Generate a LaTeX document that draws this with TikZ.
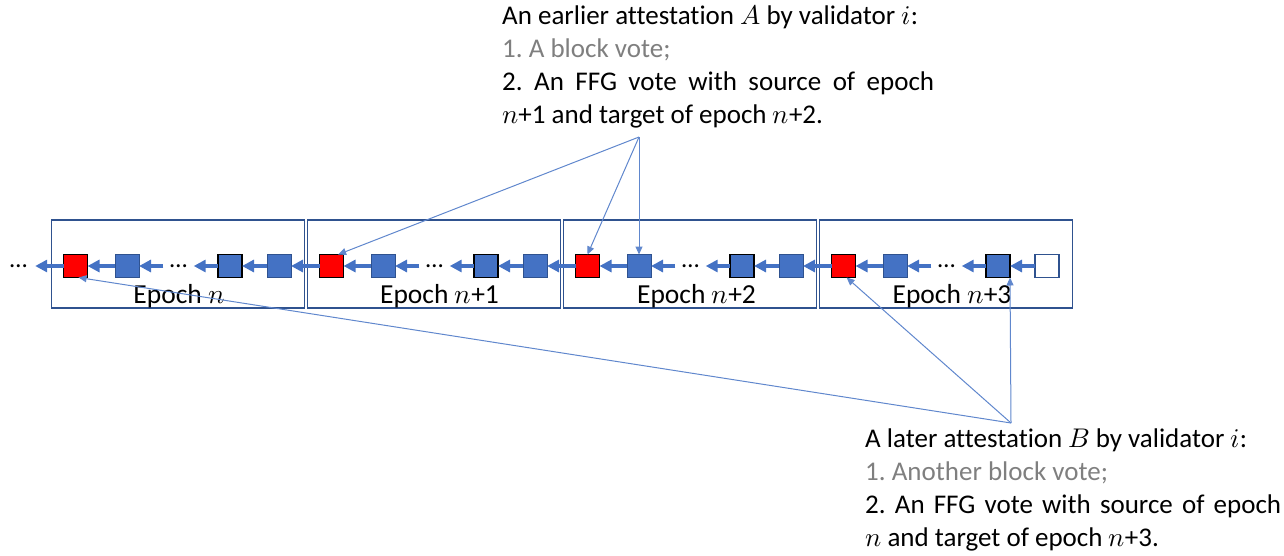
\documentclass[tikz,border=0pt]{standalone}
\usepackage{fontspec}
\usepackage{unicode-math}
\setmainfont{Carlito}[Ligatures=NoCommon]
\setmathfont{Latin Modern Math}
\usetikzlibrary{arrows.meta,calc}
\frenchspacing

\definecolor{blockblue}{HTML}{4472C4}
\definecolor{edgeblue}{HTML}{2F528F}
\definecolor{votegray}{HTML}{7F7F7F}

\tikzset{
  epochbox/.style={draw=edgeblue, line width=1.8pt, minimum width=253pt,
    minimum height=88pt, inner sep=0pt},
  blk/.style={minimum width=24pt, minimum height=23pt, inner sep=0pt, outer sep=0pt},
  blueblk/.style={blk, fill=blockblue, draw=edgeblue, line width=1pt},
  darkblk/.style={blk, fill=blockblue, draw=black, line width=1.6pt},
  redblk/.style={blk, fill=red, draw=black, line width=1.6pt},
  whiteblk/.style={blk, fill=white, draw=edgeblue, line width=1.4pt},
  gap/.style={minimum width=30pt, inner sep=0pt, font=\fontsize{25}{25}\selectfont},
  chain/.style={draw=blockblue, line width=3.5pt, -{Triangle[length=12pt,width=12pt]}},
  vote/.style={draw=blockblue!85, line width=1pt, -{Triangle[length=8pt,width=7pt]}},
  epochlabel/.style={anchor=base, inner sep=0pt, font=\fontsize{27.5}{27.5}\selectfont},
  note/.style={anchor=base west, inner sep=0pt, font=\fontsize{27}{33}\selectfont},
}

\begin{document}
\begin{tikzpicture}[x=1pt, y=-1pt]
\useasboundingbox (0,0) rectangle (1284,555);

% epochs: frame, blocks and the links inside each one
\foreach \k/\laststyle in {0/blueblk,1/blueblk,2/blueblk,3/whiteblk} {
  \pgfmathsetmacro\L{51.5+256*\k}
  \node[epochbox] (ep\k) at (\L+126.5,264) {};
  \node[redblk]  (e\k-r) at (\L+24,266) {};
  \node[blueblk] (e\k-a) at (\L+75.5,266) {};
  \node[gap]     (e\k-g) at (\L+127,266) {\ldots};
  \node[darkblk] (e\k-d) at (\L+178.5,266) {};
  \node[\laststyle] (e\k-z) at (\L+227.5,266) {};
  \draw[chain] (e\k-a.west) -- (e\k-r.east);
  \draw[chain] (e\k-g.west) -- (e\k-a.east);
  \draw[chain] (e\k-d.west) -- (e\k-g.east);
  \draw[chain] (e\k-z.west) -- (e\k-d.east);
}

% links between consecutive epochs
\foreach \k/\j in {1/0,2/1,3/2}
  \draw[chain] (e\k-r.west) -- (e\j-z.east);

% earlier history
\node[gap, minimum width=33pt] (lead) at (18.5,266) {\ldots};
\draw[chain] (e0-r.west) -- (lead.east);

% epoch labels
\node[epochlabel] (lab0) at (179,303) {Epoch $n$};
\node[epochlabel] (lab1) at (439.5,303) {Epoch $n$+1};
\node[epochlabel] (lab2) at (696.5,303) {Epoch $n$+2};
\node[epochlabel] (lab3) at (952,303) {Epoch $n$+3};

% attestation A
\node[note] (noteA) at (502,24) {\parbox[t]{432pt}{\parindent0pt\fontsize{27}{33}\selectfont
  An earlier attestation $A$ by validator $i$:\par
  {\color{votegray}1. A block vote;\par}
  2. An FFG vote with source of epoch\linebreak $n$+1 and target of epoch $n$+2.}};
\coordinate (srcA) at (639,137);

% attestation B
\node[note] (noteB) at (865,447) {\parbox[t]{416pt}{\parindent0pt\fontsize{27}{33}\selectfont
  A later attestation $B$ by validator $i$:\par
  {\color{votegray}1. Another block vote;\par}
  2. An FFG vote with source of epoch\linebreak $n$ and target of epoch $n$+3.}};
\coordinate (srcB) at (1011,423);

% votes of A
\draw[vote] (srcA) -- (e1-r.60);
\draw[vote] (srcA) -- (e2-r.north);
\draw[vote] (srcA) -- (e2-a.north);

% votes of B
\draw[vote] (srcB) -- (e0-r.-75);
\draw[vote] (srcB) -- (e3-r.-75);
\draw[vote] (srcB) -- (e3-d.south east);
\end{tikzpicture}
\end{document}
